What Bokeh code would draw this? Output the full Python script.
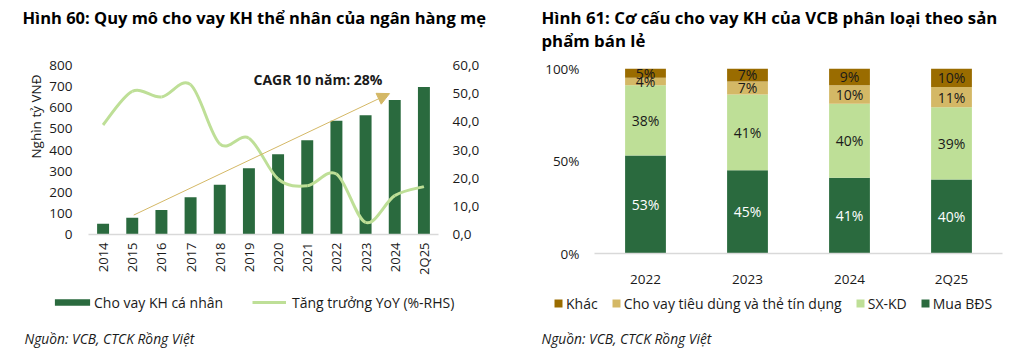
import math
from bokeh.plotting import figure
from bokeh.layouts import row, column
from bokeh.models import (Range1d, LinearAxis, FixedTicker, Label, Legend, LegendItem, Title,
                          ColumnDataSource, Arrow, NormalHead, FactorRange)
from bokeh.core.properties import value
from bokeh.embed import file_html
from bokeh.resources import INLINE

FONT = "Open Sans"
NAN = float("nan")

# ---------------- data: chart 60 ----------------
years = ["2014", "2015", "2016", "2017", "2018", "2019", "2020", "2021", "2022", "2023", "2024", "2Q25"]
loans = [51, 79, 116, 176, 235, 314, 380, 446, 538, 564, 637, 698]          # nghìn tỷ VNĐ
yoy = [38.9, 50.8, 48.8, 53.2, 32.2, 34.2, 19.7, 17.3, 21.5, 4.3, 13.8, 17.0]  # %
left_ticks = [0, 100, 200, 300, 400, 500, 600, 700, 800]
right_ticks = [0, 10, 20, 30, 40, 50, 60]
right_tick_labels = ["0,0", "10,0", "20,0", "30,0", "40,0", "50,0", "60,0"]
cagr_text = "CAGR 10 năm: 28%"
cagr_start = (1.05, 92)
cagr_end = (9.82, 667)

# ---------------- data: chart 61 ----------------
periods = ["2022", "2023", "2024", "2Q25"]
mua_bds = [53, 45, 41, 40]
sx_kd = [38, 41, 40, 39]
tieu_dung = [4, 7, 10, 11]
khac = [5, 7, 9, 10]
pct_ticks = [0, 50, 100]
pct_labels = ["0%", "50%", "100%"]

title60 = "Hình 60: Quy mô cho vay KH thể nhân của ngân hàng mẹ"
title61 = ["Hình 61: Cơ cấu cho vay KH của VCB phân loại theo sản", "phẩm bán lẻ"]
source_text = "Nguồn: VCB, CTCK Rồng Việt"

DARK = "#2A6A3E"
LIGHT = "#BEDF97"
TAN = "#D4B866"
BROWN = "#9A6C00"
TXT = "#1A1A1A"

TOP_H = 56
CHART_H = 234
BOT_H = 356 - TOP_H - CHART_H


def strip(w, h):
    """A plain figure whose frame fills its canvas; y grows downward (canvas pixels)."""
    s = figure(width=w, height=h, output_backend="svg", toolbar_location=None,
               x_range=Range1d(0, w), y_range=Range1d(h, 0), frame_align=False,
               min_border=0, min_border_left=0, min_border_right=0,
               min_border_top=0, min_border_bottom=0)
    s.axis.visible = False
    s.grid.visible = False
    s.outline_line_color = None
    s.background_fill_color = "white"
    s.border_fill_color = "white"
    return s


def txt_label(fig, x, y, text, size="13px", style="normal", color=TXT):
    fig.add_layout(Label(x=x, y=y, text=text, text_font=FONT, text_font_size=size,
                         text_font_style=style, text_color=color,
                         text_baseline="middle", text_align="left"))


def style_axis(ax, standoff, size="13.5px"):
    ax.axis_line_color = None
    ax.major_tick_line_color = None
    ax.minor_tick_line_color = None
    ax.major_tick_out = 0
    ax.major_tick_in = 0
    ax.minor_tick_out = 0
    ax.minor_tick_in = 0
    ax.major_label_standoff = standoff
    ax.major_label_text_font = FONT
    ax.major_label_text_font_size = size
    ax.major_label_text_color = TXT


# ================= left chart =================
p1 = figure(width=520, height=CHART_H, output_backend="svg", toolbar_location=None,
            x_range=Range1d(-0.5, 11.5), y_range=Range1d(0, 800), frame_align=False,
            min_border_left=88, min_border_right=82, min_border_top=65 - TOP_H, min_border_bottom=56)
p1.extra_y_ranges = {"yoy": Range1d(0, 60)}
p1.outline_line_color = None
p1.xgrid.visible = False
p1.ygrid.visible = False
p1.background_fill_color = "white"
p1.border_fill_color = "white"

idx = list(range(len(years)))
bars = p1.vbar(x=idx, top=loans, width=0.41, fill_color=DARK, line_color=None)

# smooth (Excel-style Catmull-Rom) line through the YoY points
n = len(yoy)
def pt(i):
    i = max(0, min(n - 1, i))
    return idx[i], yoy[i]
x0s, y0s, x1s, y1s, cx0s, cy0s, cx1s, cy1s = [], [], [], [], [], [], [], []
for i in range(n - 1):
    pa, pb, pc, pd = pt(i - 1), pt(i), pt(i + 1), pt(i + 2)
    x0s.append(pb[0]); y0s.append(pb[1]); x1s.append(pc[0]); y1s.append(pc[1])
    cx0s.append(pb[0] + (pc[0] - pa[0]) / 6.0); cy0s.append(pb[1] + (pc[1] - pa[1]) / 6.0)
    cx1s.append(pc[0] - (pd[0] - pb[0]) / 6.0); cy1s.append(pc[1] - (pd[1] - pb[1]) / 6.0)
p1.bezier(x0=x0s, y0=y0s, x1=x1s, y1=y1s, cx0=cx0s, cy0=cy0s, cx1=cx1s, cy1=cy1s,
          y_range_name="yoy", line_color=LIGHT, line_width=3)

xa = p1.xaxis[0]
xa.ticker = FixedTicker(ticks=idx)
xa.major_label_overrides = {i: years[i] for i in idx}
xa.major_label_orientation = math.pi / 2
style_axis(xa, 8, "13px")
xa.axis_line_color = "#D9D9D9"
xa.axis_line_width = 1.5

ya = p1.yaxis[0]
ya.ticker = FixedTicker(ticks=left_ticks)
style_axis(ya, 16)

ra = LinearAxis(y_range_name="yoy", ticker=FixedTicker(ticks=right_ticks))
ra.major_label_overrides = {t: s for t, s in zip(right_ticks, right_tick_labels)}
style_axis(ra, 14)
p1.add_layout(ra, "right")

p1.add_layout(Title(text="Nghìn tỷ VNĐ", align="right", offset=9, standoff=4,
                    text_font=FONT, text_font_size="13.5px", text_font_style="normal",
                    text_color=TXT), "left")

p1.add_layout(Arrow(x_start=cagr_start[0], y_start=cagr_start[1], x_end=cagr_end[0], y_end=cagr_end[1],
                    line_color=TAN, line_width=1,
                    end=NormalHead(size=12, fill_color=TAN, line_color=TAN)))
p1.add_layout(Label(x=165, y=155, x_units="screen", y_units="screen", text=cagr_text,
                    text_font=FONT, text_font_size="14px", text_font_style="bold",
                    text_color=TXT, text_baseline="middle", text_align="left"))

# top strip (title) and bottom strip (legend + source) for left chart
t1 = strip(520, TOP_H)
txt_label(t1, 22, 17, title60, size="16.5px", style="bold", color="black")

b1 = strip(520, BOT_H)
leg_bar = b1.vbar(x=[NAN], top=[NAN], width=1, fill_color=DARK, line_color=None)
leg_line = b1.line(x=[NAN, NAN], y=[NAN, NAN], line_color=LIGHT, line_width=3)
lg_a = Legend(items=[LegendItem(label="Cho vay KH cá nhân", renderers=[leg_bar])],
              location=(50, BOT_H - 22), orientation="horizontal",
              glyph_width=44, glyph_height=8, label_standoff=0, padding=0, margin=0,
              border_line_color=None, background_fill_alpha=0,
              label_text_font=FONT, label_text_font_size="14px", label_text_color=TXT, label_height=20)
lg_b = Legend(items=[LegendItem(label="Tăng trưởng YoY (%-RHS)", renderers=[leg_line])],
              location=(252, BOT_H - 22), orientation="horizontal",
              glyph_width=34, glyph_height=8, label_standoff=6, padding=0, margin=0,
              border_line_color=None, background_fill_alpha=0,
              label_text_font=FONT, label_text_font_size="14px", label_text_color=TXT, label_height=20)
b1.add_layout(lg_a, "center")
b1.add_layout(lg_b, "center")
txt_label(b1, 24, 338 - TOP_H - CHART_H, source_text, size="13.8px", style="italic")

# ================= right chart =================
src = ColumnDataSource(dict(periods=periods, mua=mua_bds, sx=sx_kd, td=tieu_dung, kh=khac))
p2 = figure(width=512, height=CHART_H, output_backend="svg", toolbar_location=None,
            x_range=FactorRange(*periods), y_range=Range1d(0, 100), frame_align=False,
            min_border_left=74, min_border_right=30, min_border_top=68 - TOP_H, min_border_bottom=36)
p2.outline_line_color = None
p2.xgrid.visible = False
p2.ygrid.visible = False
p2.background_fill_color = "white"
p2.border_fill_color = "white"

stack = p2.vbar_stack(["mua", "sx", "td", "kh"], x="periods", width=0.4, source=src,
                      color=[DARK, LIGHT, TAN, BROWN], line_color=None)

series = [mua_bds, sx_kd, tieu_dung, khac]
colors_txt = ["white", TXT, TXT, TXT]
base = [0] * len(periods)
for vals, tc in zip(series, colors_txt):
    mids = [b + v / 2.0 for b, v in zip(base, vals)]
    labs = ["%d%%" % v for v in vals]
    p2.text(x=periods, y=mids, text=labs, text_color=tc, text_font=value(FONT),
            text_font_size="14px", text_align="center", text_baseline="middle")
    base = [b + v for b, v in zip(base, vals)]

xb = p2.xaxis[0]
style_axis(xb, 16)
xb.axis_line_color = "#D9D9D9"
xb.axis_line_width = 1.5

yb = p2.yaxis[0]
yb.ticker = FixedTicker(ticks=pct_ticks)
yb.major_label_overrides = {t: s for t, s in zip(pct_ticks, pct_labels)}
style_axis(yb, 15)

t2 = strip(512, TOP_H)
txt_label(t2, 21, 17, title61[0], size="16.8px", style="bold", color="black")
txt_label(t2, 21, 40, title61[1], size="16.8px", style="bold", color="black")

b2 = strip(512, BOT_H)
legend_cols = [BROWN, TAN, LIGHT, DARK]
legend_names = ["Khác", "Cho vay tiêu dùng và thẻ tín dụng", "SX-KD", "Mua BĐS"]
leg_items = []
for c, nm in zip(legend_cols, legend_names):
    r = b2.vbar(x=[NAN], top=[NAN], width=1, fill_color=c, line_color=None)
    leg_items.append(LegendItem(label=nm, renderers=[r]))
lg2 = Legend(items=leg_items, location=(33, BOT_H - 23), orientation="horizontal",
             glyph_width=10, glyph_height=10, label_standoff=3, spacing=13, padding=0, margin=0,
             border_line_color=None, background_fill_alpha=0,
             label_text_font=FONT, label_text_font_size="14px", label_text_color=TXT, label_height=20)
b2.add_layout(lg2, "center")
txt_label(b2, 21, 338 - TOP_H - CHART_H, source_text, size="13.8px", style="italic")

layout = row(column(t1, p1, b1), column(t2, p2, b2))
open("out.html", "w").write(file_html(layout, INLINE))
